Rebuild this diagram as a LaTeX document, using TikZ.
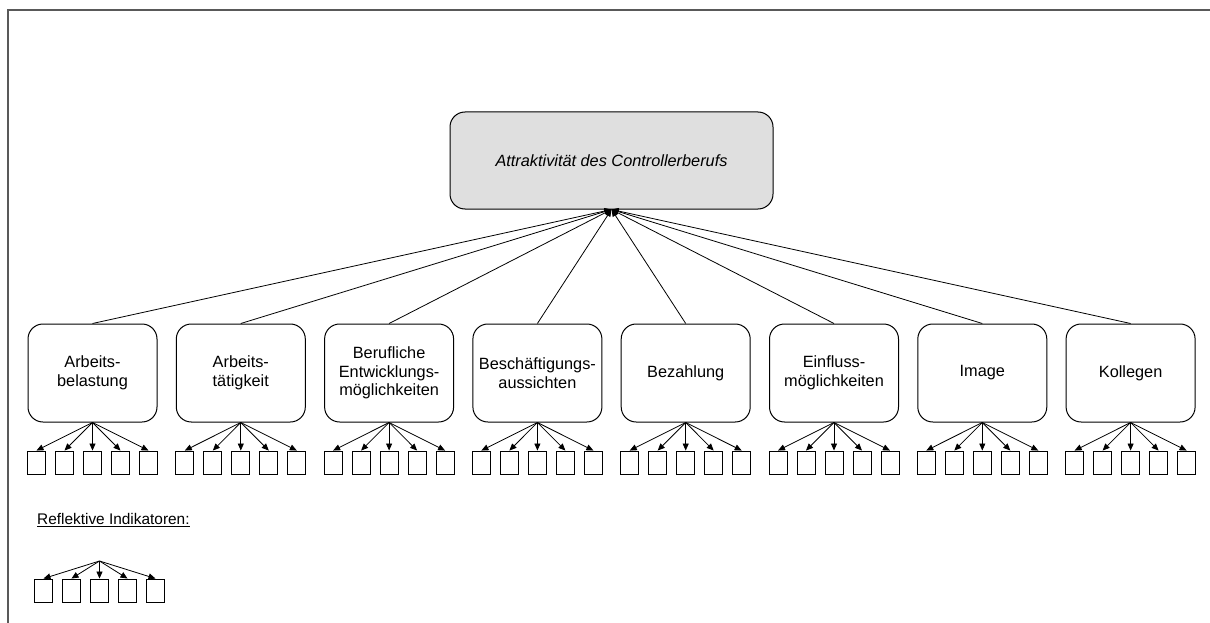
\documentclass[tikz,border=0pt]{standalone}
\usepackage{fontspec}
\setmainfont{Liberation Sans}
\usetikzlibrary{arrows.meta}

\tikzset{
  konstrukt/.style={draw,line width=1pt,rounded corners=15pt,minimum width=129pt,minimum height=98pt,align=center,font=\fontsize{16.3}{18.5}\selectfont},
  indikator/.style={draw,line width=0.9pt,minimum width=18pt,minimum height=23pt,inner sep=0pt},
  pfeil/.style={line width=0.8pt,-{Triangle[length=7pt,width=6pt]}}
}

\begin{document}
\begin{tikzpicture}[x=1pt,y=-1pt]
        % Frame
        \useasboundingbox (0,0) rectangle (1210,623);
        \draw[gray!70!black,line width=1.2pt] (8,623) -- (8,10) -- (1210,10);

        % Construct
        \node[konstrukt,fill=gray!25,minimum width=323pt,minimum height=97pt,font=\fontsize{16.3}{18.5}\selectfont\itshape] (attr) at (611.5,160.5) {Attraktivität des Controllerberufs};

        % Dimensions with reflective indicators
        \foreach \i/\txt in {1/{Arbeits-\\belastung},2/{Arbeits-\\tätigkeit},3/{Berufliche\\Entwicklungs-\\möglichkeiten},4/{Beschäftigungs-\\aussichten},5/{Bezahlung},6/{Einfluss-\\möglichkeiten},7/{Image},8/{Kollegen}} {
          \node[konstrukt] (f\i) at ({92.5+148.3*(\i-1)},373) {\txt};
          \draw[pfeil] (f\i.north) -- (attr.south);
          \foreach \j in {1,...,5} {
            \node[indikator] (f\i-\j) at ({92.5+148.3*(\i-1)+28*(\j-3)},462.5) {};
            \draw[pfeil] (f\i.south) -- (f\i-\j.north);
          }
        }

        % Legend
        \node[anchor=west,font=\fontsize{15.4}{18}\selectfont,inner sep=0pt] (leg) at (37,520) {\underline{Reflektive Indikatoren:}};
        \coordinate (apex) at (99.5,561);
        \foreach \j in {1,...,5} {
          \node[indikator] (leg-\j) at ({99.5+28*(\j-3)},590.5) {};
          \draw[pfeil] (apex) -- (leg-\j.north);
        }
\end{tikzpicture}
\end{document}
